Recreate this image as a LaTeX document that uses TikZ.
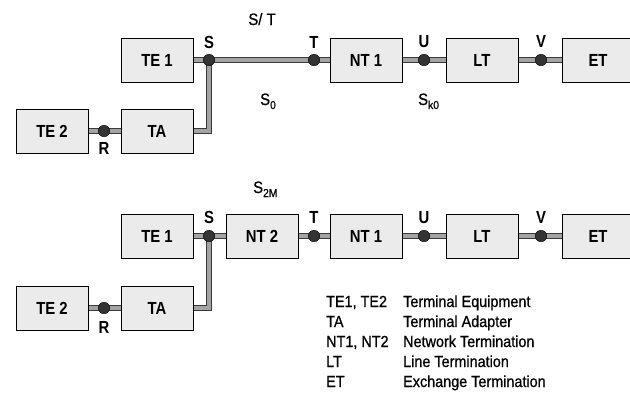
\documentclass[tikz,border=0pt]{standalone}
\usepackage{fontspec}
\setmainfont{Liberation Sans}
\newfontfamily\boxfont{Liberation Sans}[FakeStretch=0.85]
\newfontfamily\legfont{Liberation Sans}[FakeStretch=0.9,FakeBold=0.8]
\usetikzlibrary{backgrounds}
\definecolor{boxfill}{HTML}{EBEBEB}
\definecolor{pipegray}{HTML}{A3A3A3}
\definecolor{pipedark}{HTML}{3A3A3A}
\definecolor{dotcol}{HTML}{333333}
\newcommand{\subtxt}[1]{\raisebox{-4pt}{\fontsize{11.5}{11.5}\selectfont #1}}
\begin{document}
\begin{tikzpicture}[x=1pt,y=-1pt,
 unit/.style={draw=black, line width=0.9pt, fill=boxfill, minimum width=72pt, minimum height=44pt, inner sep=0pt, font=\boxfont\bfseries\fontsize{17.5}{20}\selectfont},
 pt/.style={circle, fill=dotcol, draw=black, line width=0.4pt, minimum size=11.5pt, inner sep=0pt},
 plabel/.style={anchor=base, inner sep=0pt, font=\boxfont\bfseries\fontsize{17.5}{20}\selectfont},
 ilabel/.style={anchor=base west, inner sep=0pt, font=\legfont\fontsize{16.5}{19}\selectfont},
 pipe/.style={draw=pipedark, line width=1pt, double=pipegray, double distance=4pt},
 leg/.style={anchor=base west, inner sep=0pt, font=\legfont\fontsize{16}{19}\selectfont}]
\useasboundingbox (0,0) rectangle (630,392);
\clip (0,0) rectangle (630,392);

% ---------- top diagram ----------
\node[unit] (te1a) at (157,60) {TE 1};
\node[unit] (nt1a) at (366,60) {NT 1};
\node[unit] (lta)  at (482,60) {LT};
\node[unit] (eta)  at (598,60) {ET};
\node[unit] (te2a) at (52,131) {TE 2};
\node[unit] (taa)  at (157,131) {TA};
\node[pt] (sa)  at (209,60) {};
\node[pt] (tpa) at (314,60) {};
\node[pt] (ua)  at (424,60) {};
\node[pt] (va)  at (541,60) {};
\node[pt] (ra)  at (104,131) {};

\node[plabel] (lsa) at (209,48) {S};
\node[plabel] (lta2) at (314,48) {T};
\node[plabel] (lua) at (424,47) {U};
\node[plabel] (lva) at (541,47) {V};
\node[plabel] (lra) at (104,154) {R};
\node[ilabel, anchor=base] (lst) at (262,25) {S/ T};
\node[ilabel] (ls0) at (260,105) {S\subtxt{0}};
\node[ilabel] (lsk0) at (418,105) {S\subtxt{k0}};

% ---------- bottom diagram ----------
\node[unit] (te1b) at (157,236) {TE 1};
\node[unit] (nt2b) at (262,236) {NT 2};
\node[unit] (nt1b) at (366,236) {NT 1};
\node[unit] (ltb)  at (482,236) {LT};
\node[unit] (etb)  at (598,236) {ET};
\node[unit] (te2b) at (52,308) {TE 2};
\node[unit] (tab)  at (157,308) {TA};
\node[pt] (sb)  at (209,236) {};
\node[pt] (tpb) at (314,236) {};
\node[pt] (ub)  at (424,236) {};
\node[pt] (vb)  at (541,236) {};
\node[pt] (rb)  at (104,308) {};

\node[plabel] (lsb) at (209,223) {S};
\node[plabel] (ltb2) at (314,223) {T};
\node[plabel] (lub) at (424,223) {U};
\node[plabel] (lvb) at (541,223) {V};
\node[plabel] (lrb) at (104,333) {R};
\node[ilabel] (ls2m) at (253,193) {S\subtxt{2M}};

% ---------- connectors ----------
\begin{scope}[on background layer]
\draw[pipe] (te1a.center) -- (sa.center);
\draw[pipe] (sa.center) -- (tpa.center);
\draw[pipe] (tpa.center) -- (nt1a.center);
\draw[pipe] (nt1a.center) -- (ua.center);
\draw[pipe] (ua.center) -- (lta.center);
\draw[pipe] (lta.center) -- (va.center);
\draw[pipe] (va.center) -- (eta.center);
\draw[pipe] (te2a.center) -- (ra.center);
\draw[pipe] (ra.center) -- (taa.center);
\draw[pipe] (sa.center) |- (taa.center);

\draw[pipe] (te1b.center) -- (sb.center);
\draw[pipe] (sb.center) -- (nt2b.center);
\draw[pipe] (nt2b.center) -- (tpb.center);
\draw[pipe] (tpb.center) -- (nt1b.center);
\draw[pipe] (nt1b.center) -- (ub.center);
\draw[pipe] (ub.center) -- (ltb.center);
\draw[pipe] (ltb.center) -- (vb.center);
\draw[pipe] (vb.center) -- (etb.center);
\draw[pipe] (te2b.center) -- (rb.center);
\draw[pipe] (rb.center) -- (tab.center);
\draw[pipe] (sb.center) |- (tab.center);
\end{scope}

% ---------- legend ----------
\node[leg] (k1) at (326,307) {TE1, TE2};
\node[leg] (d1) at (403,307) {Terminal Equipment};
\node[leg] (k2) at (326,327) {TA};
\node[leg] (d2) at (403,327) {Terminal Adapter};
\node[leg] (k3) at (326,347) {NT1, NT2};
\node[leg] (d3) at (403,347) {Network Termination};
\node[leg] (k4) at (326,367) {LT};
\node[leg] (d4) at (403,367) {Line Termination};
\node[leg] (k5) at (326,387) {ET};
\node[leg] (d5) at (403,387) {Exchange Termination};
\end{tikzpicture}
\end{document}
